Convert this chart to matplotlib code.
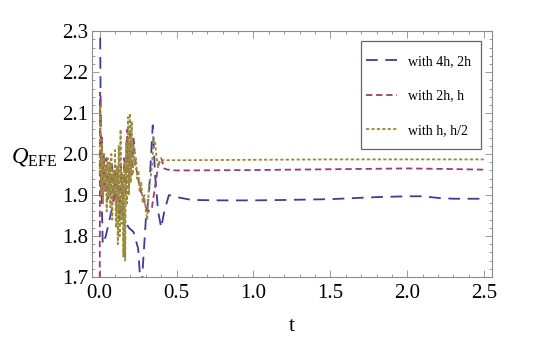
import matplotlib.pyplot as plt
from matplotlib.ticker import MultipleLocator
from matplotlib.patches import Rectangle

plt.rcParams['font.family'] = 'Liberation Serif'
plt.rcParams['mathtext.fontset'] = 'custom'
plt.rcParams['mathtext.rm'] = 'Liberation Serif'
plt.rcParams['mathtext.it'] = 'Liberation Serif:italic'

# with 4h, 2h
t_a = [0.0, 0.005, 0.01, 0.02, 0.04, 0.07, 0.1, 0.13, 0.16, 0.19, 0.22, 0.25, 0.27, 0.285,
       0.3, 0.32, 0.345, 0.36, 0.38, 0.4, 0.42, 0.45, 0.5, 0.6, 0.8, 1.0, 1.2, 1.5, 1.8,
       2.0, 2.1, 2.2, 2.3, 2.5]
q_a = [2.45, 2.2, 1.95, 1.78, 1.8, 1.85, 1.9, 1.87, 1.84, 1.82, 1.81, 1.77, 1.66, 1.75,
       1.84, 1.9, 2.07, 1.95, 1.86, 1.82, 1.86, 1.9, 1.895, 1.888, 1.887, 1.887, 1.888, 1.89, 1.895,
       1.897, 1.897, 1.893, 1.891, 1.891]

# with 2h, h
t_b = [0.0, 0.003, 0.008, 0.014, 0.02, 0.028, 0.036, 0.044, 0.052, 0.06, 0.07, 0.08, 0.09,
       0.1, 0.11, 0.12, 0.13, 0.14, 0.15, 0.16, 0.17, 0.18, 0.19, 0.2, 0.21, 0.22, 0.235,
       0.25, 0.265, 0.28, 0.3, 0.32, 0.34, 0.36, 0.38, 0.4, 0.42, 0.44, 0.5, 1.0, 1.5, 2.0,
       2.2, 2.5]
q_b = [1.6, 2.15, 1.9, 2.04, 1.88, 2.0, 1.91, 1.99, 1.89, 1.97, 1.9, 1.98, 1.88,
       1.96, 1.86, 1.95, 1.84, 1.97, 1.86, 1.99, 1.9, 2.06, 1.92, 2.05, 1.95, 2.04, 1.97,
       1.94, 1.91, 1.9, 1.87, 1.86, 1.87, 1.92, 1.97, 1.99, 1.965, 1.962, 1.96, 1.961, 1.963, 1.965,
       1.964, 1.962]

# with h, h/2
t_c = [0.0, 0.004, 0.01, 0.016, 0.022, 0.028, 0.034, 0.04, 0.046, 0.052, 0.058, 0.064,
       0.07, 0.076, 0.082, 0.088, 0.094, 0.1, 0.106, 0.112, 0.118, 0.124, 0.13, 0.136,
       0.142, 0.148, 0.154, 0.16, 0.166, 0.172, 0.178, 0.184, 0.19, 0.196, 0.202, 0.208,
       0.214, 0.22, 0.228, 0.236, 0.244, 0.252, 0.26, 0.27, 0.28, 0.29, 0.3, 0.31, 0.32,
       0.33, 0.34, 0.35, 0.36, 0.37, 0.38, 0.39, 0.4, 0.5, 1.0, 1.5, 2.0, 2.5]
q_c = [1.95, 2.12, 1.9, 2.02, 1.88, 2.0, 1.92, 1.97, 1.86, 1.99, 1.9, 1.98,
       1.87, 2.0, 1.84, 1.96, 1.9, 2.01, 1.82, 1.97, 1.78, 2.02, 1.8, 2.06,
       1.83, 1.95, 1.75, 1.98, 1.74, 2.03, 1.88, 2.09, 1.9, 2.1, 1.93, 2.08,
       1.95, 2.02, 1.97, 1.99, 1.94, 1.96, 1.91, 1.93, 1.88, 1.9, 1.86, 1.84, 1.92,
       1.94, 1.97, 2.04, 2.03, 1.99, 1.97, 1.985, 1.985, 1.985, 1.986, 1.987, 1.987, 1.987]

c_a = '#3d3d99'
c_b = '#993d71'
c_c = '#998b3d'

fig = plt.figure(figsize=(5.54, 3.46), dpi=100)
ax = fig.add_axes([0.166, 0.1994, 0.722, 0.7106])

lw = 1.3
ax.plot(t_a, q_a, color=c_a, lw=lw, dashes=(6.5, 4.2), label='with 4h, 2h')
ax.plot(t_b, q_b, color=c_b, lw=lw, dashes=(3.5, 2.1), label='with 2h, h')
ax.plot(t_c, q_c, color=c_c, lw=lw, dashes=(1.8, 1.2), label='with h, h/2')

ax.set_xlim(-0.05, 2.55)
ax.set_ylim(1.7, 2.3)
ax.xaxis.set_major_locator(MultipleLocator(0.5))
ax.xaxis.set_minor_locator(MultipleLocator(0.1))
ax.yaxis.set_major_locator(MultipleLocator(0.1))
ax.yaxis.set_minor_locator(MultipleLocator(0.02))
ax.xaxis.set_major_formatter(lambda v, p: f'{v:.1f}')
ax.yaxis.set_major_formatter(lambda v, p: f'{v:.1f}')

for s in ax.spines.values():
    s.set_color('#8a8a8a')
    s.set_linewidth(0.8)
ax.tick_params(which='both', direction='in', top=True, right=True, color='#9a9a9a',
               labelsize=15, width=0.7)
ax.tick_params(which='major', length=5)
ax.tick_params(which='minor', length=2.5)
ax.tick_params(axis='x', pad=5)
ax.tick_params(axis='y', pad=3)

ax.set_xlabel('t', fontsize=16, labelpad=10)
fig.text(0.062, 0.545, r'$Q_{\mathrm{EFE}}$', fontsize=16.5, ha='center', va='center')

# legend frame (Mathematica style, tighter on the sides)
box = Rectangle((0.6516, 0.5694), 0.2166, 0.3121, transform=fig.transFigure,
                facecolor='white', edgecolor='#666666', lw=0.9, zorder=4, clip_on=False)
ax.add_patch(box)
leg = ax.legend(loc='upper left', bbox_to_anchor=(0.65, 0.96), fontsize=10,
                frameon=False, handlelength=2.25, handletextpad=0.8,
                labelspacing=1.55, borderpad=1.0, borderaxespad=0)
leg.set_zorder(5)

fig.savefig('out.png', dpi=100)
